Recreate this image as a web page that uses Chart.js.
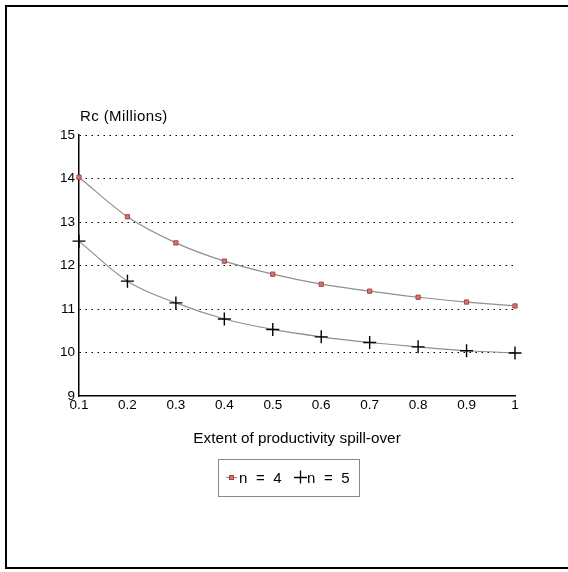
<!DOCTYPE html>
<html>
<head>
<meta charset="utf-8">
<script src="https://cdn.jsdelivr.net/npm/chart.js@4/dist/chart.umd.min.js"></script>
<style>
  html, body { margin: 0; padding: 0; background: #fff; }
  #wrap { position: relative; width: 568px; height: 572px; overflow: hidden; }
  #frame { position: absolute; left: 5px; top: 5px; width: 600px; height: 564px;
           border-left: 2px solid #000; border-top: 2px solid #000; border-bottom: 2px solid #000; box-sizing: border-box; }
  canvas { position: absolute; left: 0; top: 0; }
</style>
</head>
<body>
<div id="wrap">
  <canvas id="c" width="568" height="572"></canvas>
  <div id="frame"></div>
</div>
<script>
const xValues = [0.1, 0.2, 0.3, 0.4, 0.5, 0.6, 0.7, 0.8, 0.9, 1.0];
const seriesNames = ['n = 4', 'n = 5'];
const seriesN4 = [14.03, 13.12, 12.52, 12.10, 11.80, 11.57, 11.41, 11.27, 11.16, 11.07];
const seriesN5 = [12.56, 11.64, 11.14, 10.77, 10.53, 10.36, 10.23, 10.13, 10.04, 9.99];
const xTickLabels = ['0.1', '0.2', '0.3', '0.4', '0.5', '0.6', '0.7', '0.8', '0.9', '1'];
const yTickValues = [9, 10, 11, 12, 13, 14, 15];
const yAxisTitle = 'Rc (Millions)';
const xAxisTitle = 'Extent of productivity spill-over';

const FONT = '"Liberation Sans", Arial, Helvetica, sans-serif';

const toPts = arr => arr.map((v, i) => ({ x: xValues[i], y: v }));

const extras = {
  id: 'extras',
  afterDraw(chart) {
    const ctx = chart.ctx;
    const ca = chart.chartArea;
    ctx.save();
    // y-axis title above the plot
    ctx.fillStyle = '#000';
    ctx.font = '15px ' + FONT;
    ctx.textAlign = 'left';
    ctx.textBaseline = 'middle';
    ctx.letterSpacing = '0.4px';
    ctx.fillText(yAxisTitle, ca.left + 1, ca.top - 18);
    ctx.letterSpacing = '0px';

    // legend box
    const bx = 218.5, by = 459.5, bw = 141, bh = 37;
    ctx.strokeStyle = '#888';
    ctx.lineWidth = 1;
    ctx.strokeRect(bx, by, bw, bh);
    const cy = 477.5;
    ctx.font = '15px ' + FONT;
    ctx.letterSpacing = '2.2px';
    ctx.fillStyle = '#000';
    // item 1
    ctx.strokeStyle = '#888';
    ctx.beginPath(); ctx.moveTo(226, cy); ctx.lineTo(237, cy); ctx.stroke();
    ctx.fillStyle = '#e07070';
    ctx.strokeStyle = '#a04848';
    ctx.fillRect(229.5, cy - 2, 4, 4);
    ctx.strokeRect(229.5, cy - 2, 4, 4);
    ctx.fillStyle = '#000';
    ctx.fillText(seriesNames[0], 239, cy + 1);
    // item 2
    ctx.strokeStyle = '#000';
    ctx.lineWidth = 1.3;
    ctx.beginPath();
    ctx.moveTo(294, cy); ctx.lineTo(307, cy);
    ctx.moveTo(300.5, cy - 7); ctx.lineTo(300.5, cy + 6);
    ctx.stroke();
    ctx.fillText(seriesNames[1], 307, cy + 1);
    ctx.restore();
  }
};

new Chart(document.getElementById('c'), {
  type: 'line',
  data: {
    datasets: [
      {
        label: seriesNames[0],
        data: toPts(seriesN4),
        borderColor: '#8f8f8f',
        borderWidth: 1.2,
        cubicInterpolationMode: 'monotone',
        pointStyle: 'rect',
        pointRadius: 3,
        pointBackgroundColor: '#e07070',
        pointBorderColor: '#a04848',
        pointBorderWidth: 1,
        clip: false,
        fill: false
      },
      {
        label: seriesNames[1],
        data: toPts(seriesN5),
        borderColor: '#8f8f8f',
        borderWidth: 1.2,
        cubicInterpolationMode: 'monotone',
        pointStyle: 'cross',
        pointRadius: 6.5,
        pointBorderColor: '#000',
        pointBorderWidth: 1.4,
        clip: false,
        fill: false
      }
    ]
  },
  options: {
    responsive: false,
    animation: false,
    events: [],
    layout: { padding: { left: 0, top: 135, right: 53, bottom: 124 } },
    plugins: { legend: { display: false }, tooltip: { enabled: false }, title: { display: false } },
    scales: {
      x: {
        type: 'linear',
        min: 0.1, max: 1,
        afterBuildTicks: s => { s.ticks = xValues.map(v => ({ value: v })); },
        afterFit: s => { s.height = 52; },
        grid: { display: false, drawTicks: false },
        border: { display: true, color: '#000', width: 1.5 },
        ticks: {
          padding: 1,
          color: '#000',
          font: { family: FONT, size: 13.5 },
          maxRotation: 0,
          autoSkip: false,
          callback: (v, i) => xTickLabels[i]
        },
        title: {
          display: true,
          text: xAxisTitle,
          color: '#000',
          font: { family: FONT, size: 15.3 },
          padding: { top: 0, bottom: 0 }
        }
      },
      y: {
        type: 'linear',
        min: 9, max: 15,
        afterBuildTicks: s => { s.ticks = yTickValues.map(v => ({ value: v })); },
        afterFit: s => { s.width = 79; },
        grid: {
          drawTicks: false,
          lineWidth: 1,
          color: ctx => (ctx.tick && ctx.tick.value === 9) ? 'rgba(0,0,0,0)' : '#000'
        },
        border: { display: true, color: '#000', width: 1.5, dash: [1.5, 4.5] },
        ticks: {
          padding: 4,
          color: '#000',
          font: { family: FONT, size: 13.5 }
        }
      }
    }
  },
  plugins: [extras]
});
</script>
</body>
</html>
